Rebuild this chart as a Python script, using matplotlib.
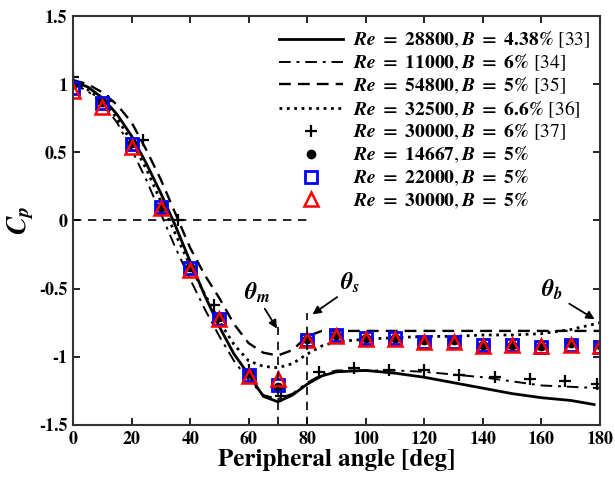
import numpy as np
import matplotlib
matplotlib.use('Agg')
import matplotlib.pyplot as plt

# data
ang_33 = [0, 5, 10, 15, 20, 25, 30, 35, 40, 45, 50, 55, 60, 65, 70, 75, 80, 85, 90,
          100, 110, 120, 130, 140, 150, 160, 170, 178]
cp_33 = [1.02, 0.98, 0.90, 0.78, 0.62, 0.42, 0.20, -0.04, -0.30, -0.55, -0.78, -0.98,
         -1.13, -1.29, -1.33, -1.28, -1.20, -1.14, -1.11, -1.10, -1.12, -1.15, -1.19,
         -1.23, -1.27, -1.30, -1.32, -1.35]

ang_34 = [0, 5, 10, 15, 20, 25, 30, 35, 40, 45, 50, 55, 60, 65, 70, 75, 80, 85, 90,
          100, 110, 120, 130, 140, 150, 160, 170, 180]
cp_34 = [1.00, 0.95, 0.86, 0.72, 0.52, 0.30, 0.05, -0.20, -0.43, -0.65, -0.85, -1.03,
         -1.17, -1.28, -1.31, -1.27, -1.19, -1.13, -1.10, -1.10, -1.10, -1.11, -1.13,
         -1.15, -1.18, -1.21, -1.22, -1.23]

ang_35 = [0, 5, 10, 15, 20, 25, 30, 35, 40, 45, 50, 55, 60, 65, 70, 75, 80, 85, 90,
          100, 120, 140, 160, 180]
cp_35 = [1.03, 1.00, 0.94, 0.85, 0.72, 0.52, 0.30, 0.05, -0.20, -0.40, -0.57, -0.76,
         -0.90, -0.97, -0.99, -0.95, -0.85, -0.81, -0.81, -0.81, -0.81, -0.81, -0.81, -0.81]

ang_36 = [0, 5, 10, 15, 20, 25, 30, 35, 40, 45, 50, 55, 60, 65, 70, 75, 80, 85, 90,
          100, 110, 120, 130, 140, 150, 160, 170, 180]
cp_36 = [1.00, 0.96, 0.88, 0.75, 0.58, 0.38, 0.14, -0.10, -0.33, -0.54, -0.74, -0.91,
         -1.03, -1.07, -1.08, -1.05, -0.98, -0.92, -0.89, -0.87, -0.86, -0.85, -0.85,
         -0.84, -0.84, -0.83, -0.80, -0.75]

ang_37 = [0, 12, 24, 36, 48, 60, 71, 84, 96, 108, 120, 132, 144, 156, 168, 179]
cp_37 = [1.05, 0.88, 0.59, 0.00, -0.62, -1.10, -1.29, -1.11, -1.08, -1.10, -1.10,
         -1.13, -1.15, -1.16, -1.18, -1.20]

ang_exp = [0, 10, 20, 30, 40, 50, 60, 70, 80, 90, 100, 110, 120, 130, 140, 150, 160, 170, 180]
cp_14667 = [1.00, 0.87, 0.57, 0.10, -0.34, -0.71, -1.12, -1.22, -0.87, -0.84, -0.86,
            -0.86, -0.88, -0.88, -0.91, -0.91, -0.92, -0.90, -0.91]
cp_22000 = [0.97, 0.86, 0.56, 0.10, -0.35, -0.72, -1.13, -1.21, -0.88, -0.84, -0.86,
            -0.86, -0.89, -0.89, -0.91, -0.91, -0.93, -0.91, -0.93]
cp_30000 = [0.95, 0.83, 0.54, 0.09, -0.36, -0.72, -1.14, -1.16, -0.88, -0.85, -0.87,
            -0.87, -0.89, -0.89, -0.92, -0.91, -0.92, -0.91, -0.92]

re_vals = ['28800', '11000', '54800', '32500', '30000', '14667', '22000', '30000']
b_vals = ['4.38', '6', '5', '6.6', '6', '5', '5', '5']
refs = ['[33]', '[34]', '[35]', '[36]', '[37]', '', '', '']

labels = []
for re_v, b_v, rf in zip(re_vals, b_vals, refs):
    lab = (r'$\mathbfit{Re}\ \mathbf{=}\ \mathbf{' + re_v + r'},\mathbfit{B}\ \mathbf{=}\ \mathbf{'
           + b_v + r'\%}$')
    if rf:
        lab += ' ' + rf
    labels.append(lab)

plt.rcParams['mathtext.fontset'] = 'stix'
plt.rcParams['font.family'] = 'STIXGeneral'

fig = plt.figure(figsize=(6.15, 4.82), dpi=100)
ax = fig.add_axes([0.1187, 0.1183, 0.8569, 0.8485])

ax.plot(ang_33, cp_33, '-', color='k', lw=2.0, label=labels[0])
ax.plot(ang_34, cp_34, color='k', lw=1.4, dashes=(6, 3, 1.5, 3), label=labels[1])
ax.plot(ang_35, cp_35, color='k', lw=1.7, dashes=(5, 3), label=labels[2])
ax.plot(ang_36, cp_36, ':', color='k', lw=2.0, label=labels[3])
ax.plot(ang_37, cp_37, '+', color='k', ms=9, mew=1.6, label=labels[4])
ax.plot(ang_exp, cp_14667, 'o', color='k', ms=6, label=labels[5])
ax.plot(ang_exp, cp_22000, 's', color='b', mfc='none', ms=9, mew=2, label=labels[6])
ax.plot(ang_exp, cp_30000, '^', color='r', mfc='none', ms=9.5, mew=1.8, label=labels[7])

# reference lines
ax.plot([0, 82], [0, 0], color='k', lw=1.2, dashes=(5, 4))
ax.plot([70, 70], [-1.5, -0.78], color='k', lw=1.2, dashes=(5, 4))
ax.plot([80, 80], [-1.5, -0.68], color='k', lw=1.2, dashes=(5, 4))

arr = dict(arrowstyle='-|>', color='k', lw=1.3, mutation_scale=12)
ax.annotate('', xy=(70.2, -0.81), xytext=(65, -0.63), arrowprops=arr)
ax.annotate('', xy=(81, -0.70), xytext=(91, -0.55), arrowprops=arr)
ax.annotate('', xy=(179, -0.735), xytext=(168.7, -0.60), arrowprops=arr)
ax.text(63, -0.53, r'$\mathbfit{\theta}_{\mathbfit{m}}$', fontsize=17, ha='center', va='center')
ax.text(94.6, -0.46, r'$\mathbfit{\theta}_{\mathbfit{s}}$', fontsize=17, ha='center', va='center')
ax.text(163.6, -0.51, r'$\mathbfit{\theta}_{\mathbfit{b}}$', fontsize=17, ha='center', va='center')

ax.set_xlim(0, 180)
ax.set_ylim(-1.5, 1.5)
ax.set_xticks(np.arange(0, 181, 20))
ax.set_yticks([-1.5, -1, -0.5, 0, 0.5, 1, 1.5])
ax.set_yticklabels(['-1.5', '-1', '-0.5', '0', '0.5', '1', '1.5'])
ax.tick_params(direction='in', top=True, right=True, length=5, width=1.2,
               labelsize=13, pad=4)
for lab in ax.get_xticklabels() + ax.get_yticklabels():
    lab.set_fontweight('bold')
for sp in ax.spines.values():
    sp.set_linewidth(1.5)
    sp.set_color('#333333')

ax.set_xlabel('Peripheral angle [deg]', fontsize=18, fontweight='bold', labelpad=1)
ax.set_ylabel(r'$\mathbfit{C}_{\mathbfit{p}}$', fontsize=20, labelpad=2)

ax.legend(loc='upper right', frameon=False, fontsize=14, handlelength=3.3,
          labelspacing=0.12, handletextpad=0.5, borderaxespad=0.1,
          bbox_to_anchor=(1.0, 0.99))

fig.savefig('out.png', dpi=100)
